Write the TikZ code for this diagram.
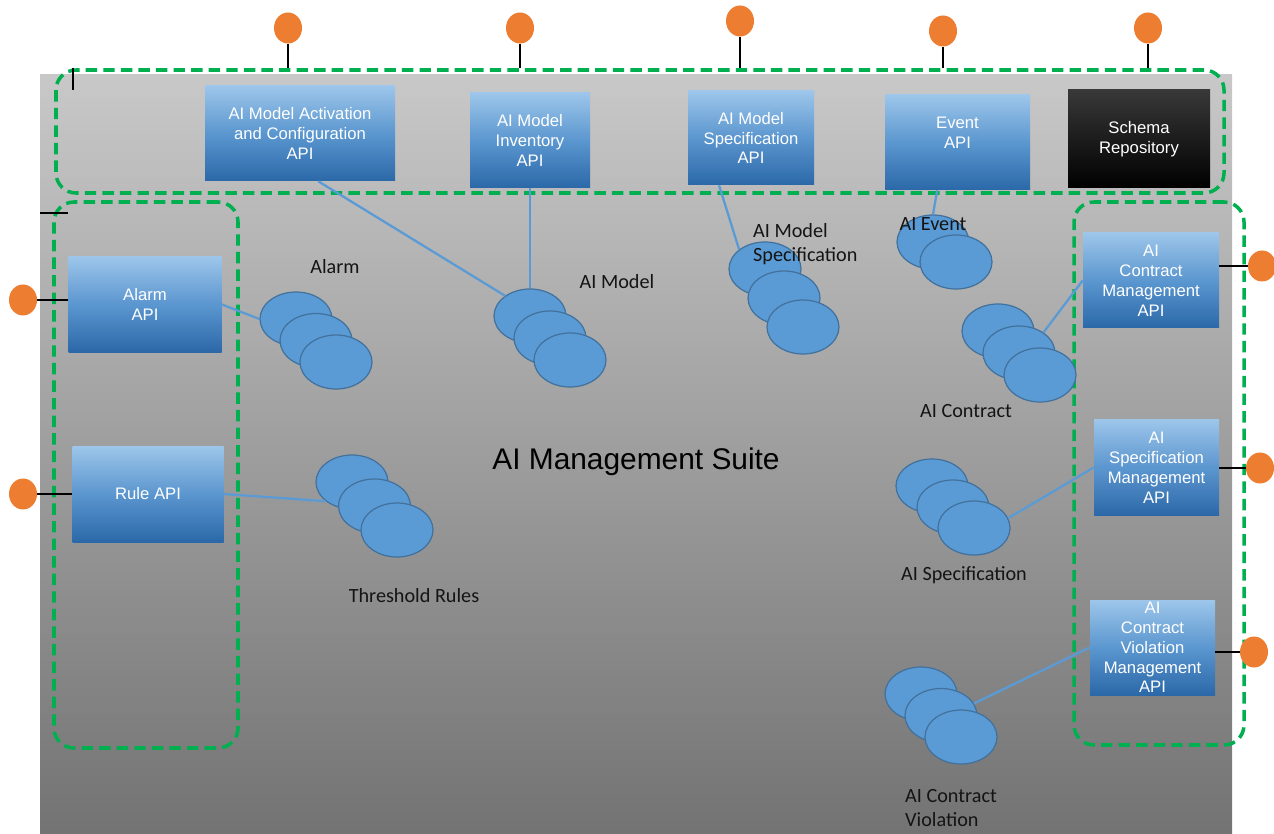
\documentclass[tikz,border=0pt]{standalone}
\usepackage{fontspec}
\setmainfont{Liberation Sans}
\newfontfamily\labelfont{Carlito}
\usetikzlibrary{shapes.geometric, positioning, calc}
\definecolor{suitegreen}{HTML}{00B050}
\definecolor{portorange}{HTML}{ED7D31}
\definecolor{blobblue}{HTML}{5B9BD5}
\definecolor{blobedge}{HTML}{41719C}
\definecolor{apitop}{HTML}{9DC6EA}
\definecolor{apimid}{HTML}{5B96CF}
\definecolor{apibottom}{HTML}{2B68A8}
\definecolor{bgtop}{HTML}{C8C8C8}
\definecolor{bgbottom}{HTML}{737373}

\tikzset{
  sized/.style 2 args={minimum width=#1*0.02cm, minimum height=#2*0.02cm},
  apibox/.style={rectangle, inner sep=0pt, top color=apitop, bottom color=apibottom, middle color=apimid,
    text=white, align=center, font=\fontsize{9.5}{11.3}\selectfont},
  zone/.style={draw=suitegreen, dash pattern=on 6.5pt off 3.5pt, line width=2pt, rounded corners=0.4cm, inner sep=0pt},
  blob/.style={ellipse, draw=blobedge, line width=0.7pt, fill=blobblue, inner sep=0pt, sized={72}{54}},
  port/.style={ellipse, fill=portorange, inner sep=0pt, sized={28}{31}},
  stem/.style={black, line width=0.8pt},
  link/.style={blobblue, line width=1.3pt},
  tag/.style={font=\labelfont\fontsize{11.5}{13.6}\selectfont, text=black!92}
}

\begin{document}
\begin{tikzpicture}[x=0.02cm, y=-0.02cm]
  \useasboundingbox (0,0) rectangle (1274,834);

  % Suite background
  \shade[top color=bgtop, bottom color=bgbottom] (40,75) rectangle (1232,834);

  % Dashed groups
  \node[zone, sized={1168}{123}] (topzone) at (640,131.5) {};
  \node[zone, sized={184}{546}] (leftzone) at (146,475) {};
  \node[zone, sized={170}{543}] (rightzone) at (1159,473.5) {};

  % Stray ticks
  \draw[stem] (73,68) -- (73,90);
  \draw[stem] (40,213) -- (68,213);

  % API boxes
  \node[apibox, sized={190}{95}] (actapi) at (300,133.5) {AI Model Activation\\and Configuration\\API};
  \node[apibox, sized={120}{95}] (invapi) at (530,140.5) {AI Model\\Inventory\\API};
  \node[apibox, sized={126}{94}] (specapi) at (751,138) {AI Model\\Specification\\API};
  \node[apibox, sized={145}{95}] (eventapi) at (957.5,142.5) {Event\\API\\[0pt]};
  \node[apibox, sized={142}{98}, top color=black!78, bottom color=black] (schema) at (1139,139) {Schema\\Repository};
  \node[apibox, sized={153}{96}] (alarmapi) at (145,304.5) {Alarm\\API};
  \node[apibox, sized={151}{96}] (ruleapi) at (148,494) {Rule API};
  \node[apibox, sized={136}{95}] (contractapi) at (1151,280.5) {AI\\Contract\\Management\\API};
  \node[apibox, sized={125}{96}] (specmgmtapi) at (1156.5,467.5) {AI\\Specification\\Management\\API};
  \node[apibox, sized={125}{95}] (violationapi) at (1152.5,647.5) {AI\\Contract\\Violation\\Management\\API};

  % Exposed ports
  \foreach \i/\x/\y in {1/288/28, 2/520/28, 3/740/21, 4/943/31, 5/1148/28} {
    \node[port] (porttop\i) at (\x,\y) {};
    \draw[stem] (porttop\i.south) -- (porttop\i.south |- topzone.north);
  }
  \foreach \i/\y/\api in {1/300/alarmapi, 2/494/ruleapi} {
    \node[port] (portleft\i) at (23,\y) {};
    \draw[stem] (portleft\i.east) -- (portleft\i.east -| \api.west);
  }
  \foreach \i/\x/\y/\api in {1/1262/266/contractapi, 2/1260/468/specmgmtapi, 3/1254/652/violationapi} {
    \node[port] (portright\i) at (\x,\y) {};
    \draw[stem] (portright\i.west -| \api.east) -- (portright\i.west);
  }

  % Resource stacks
  \foreach \nm/\x/\y/\dx/\dy/\k in {alarm/296/319/20/21.5/3, model/530/316/20/22/3, spec/765/269/19/29/3,
      event/933/242/23/20/2, contract/998/331/21/22/3, threshold/352/482/22.5/24/3,
      aispec/932/486/21/21/3, violation/921/694/20/21.5/3}
    \foreach \i in {1,...,\k}
      \node[blob] (\nm\i) at ({\x+(\i-1)*\dx},{\y+(\i-1)*\dy}) {};

  % Links
  \draw[link] (actapi.-69) -- (model1.141);
  \draw[link] (invapi.south) -- (model1.north);
  \draw[link] (specapi.-124) -- (spec1.143);
  \draw[link] (eventapi.-113) -- (event1.north);
  \draw[link] (alarmapi.east) -- (alarm1.west);
  \draw[link] (ruleapi.east) -- (threshold1.216);
  \draw[link] (contractapi.west) -- (contract2.40);
  \draw[link] (specmgmtapi.west) -- (aispec3.16);
  \draw[link] (violationapi.west) -- (violation2.20);

  % Stack labels
  \node[tag] (alarmlbl) at (335,267) {Alarm};
  \node[tag] (modellbl) at (617,282) {AI Model};
  \node[tag, align=left, anchor=west] (speclbl) at (747,244) {AI Model\\Specification};
  \node[tag] (eventlbl) at (933,224) {AI Event};
  \node[tag] (contractlbl) at (966,411) {AI Contract};
  \node[tag] (thresholdlbl) at (414,596) {Threshold Rules};
  \node[tag] (aispeclbl) at (964,575) {AI Specification};
  \node[tag, align=left, anchor=west] (violationlbl) at (899,808) {AI Contract\\Violation};

  % Suite title
  \node[black!40, font=\fontsize{17}{17}\selectfont] (suiteshadow) at (638,464) {AI Management Suite};
  \node[font=\fontsize{17}{17}\selectfont] (suite) at (636,462) {AI Management Suite};
\end{tikzpicture}
\end{document}
